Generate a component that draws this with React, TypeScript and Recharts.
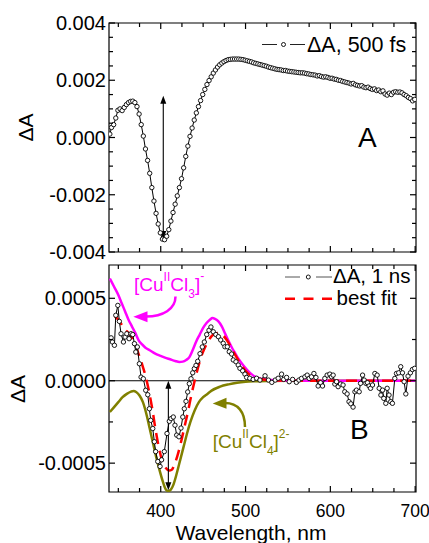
import React from "react"
import { LineChart, Line, XAxis, YAxis, ReferenceLine, ReferenceArea } from "recharts"

const FONT = "'Liberation Sans', Arial, Helvetica, sans-serif"

// ---- panel A: transient absorption at 500 fs ----
const wlA = [
  340, 342, 344.5, 347, 349.5, 352, 354.5, 357, 359.5, 362,
  364.5, 367, 369.5, 372, 374.5, 377, 379.5, 382, 384.5, 387,
  389.5, 392, 394.5, 397, 399.5, 402, 404.5, 407, 409.5, 412,
  414.5, 417, 419.5, 422, 424.5, 427, 429.5, 432, 434.5, 437,
  439.5, 442, 444.5, 447, 449.5, 452, 454.5, 457, 459.5, 462,
  464.5, 467, 469.5, 472, 474.5, 477, 479.5, 482, 484.5, 487,
  489.5, 492, 494.5, 497, 499.5, 502, 504.5, 507, 509.5, 512,
  514.5, 517, 519.5, 522, 524.5, 527, 529.5, 532, 534.5, 537,
  539.5, 542, 544.5, 547, 549.5, 552, 554.5, 557, 559.5, 562,
  564.5, 567, 569.5, 572, 574.5, 577, 579.5, 582, 584.5, 587,
  589.5, 592, 594.5, 597, 599.5, 602, 604.5, 607, 609.5, 612,
  614.5, 617, 619.5, 622, 624.5, 627, 629.5, 632, 634.5, 637,
  639.5, 642, 644.5, 647, 649.5, 652, 654.5, 657, 659.5, 662,
  664.5, 667, 669.5, 672, 674.5, 677, 679.5, 682, 684.5, 687,
  689.5, 692, 694.5, 697, 699.5,
]
const dA500fs = [
  0.00012, 0.00035, 0.00045, 0.00068, 0.00095, 0.001, 0.00094, 0.00105, 0.00115, 0.00122,
  0.00126, 0.00127, 0.00122, 0.00108, 0.00082, 0.00045, 0.00005, -0.0004, -0.0008, -0.00125,
  -0.00175, -0.00222, -0.00265, -0.00302, -0.00333, -0.00355, -0.00357, -0.00345, -0.00322, -0.00292,
  -0.00262, -0.00233, -0.00204, -0.00175, -0.00144, -0.00106, -0.00066, -0.0003, 0.00004, 0.00033,
  0.00061, 0.00086, 0.00108, 0.00129, 0.0015, 0.00168, 0.00185, 0.00199, 0.00212, 0.00225,
  0.00236, 0.00246, 0.00254, 0.0026, 0.00265, 0.00269, 0.00272, 0.00273, 0.00274, 0.00274,
  0.00274, 0.00274, 0.00273, 0.00272, 0.0027, 0.00268, 0.00266, 0.00264, 0.00261, 0.00259,
  0.00257, 0.00255, 0.00253, 0.00251, 0.00249, 0.00246, 0.00244, 0.00242, 0.0024, 0.00238,
  0.00237, 0.00236, 0.00234, 0.00234, 0.00232, 0.00231, 0.0023, 0.00229, 0.00228, 0.00227,
  0.00226, 0.00226, 0.00225, 0.00223, 0.00222, 0.0022, 0.00219, 0.00218, 0.00215, 0.00216,
  0.00213, 0.00211, 0.00212, 0.0021, 0.00207, 0.00207, 0.00204, 0.00203, 0.002, 0.00199,
  0.00196, 0.00194, 0.00192, 0.0019, 0.00187, 0.00189, 0.00184, 0.00182, 0.0018, 0.00181,
  0.00176, 0.00174, 0.00176, 0.00171, 0.00168, 0.0017, 0.00164, 0.00166, 0.0016, 0.00163,
  0.00152, 0.00148, 0.00155, 0.0015, 0.00158, 0.0016, 0.00158, 0.00159, 0.00156, 0.0015,
  0.00146, 0.0014, 0.00136, 0.00128, 0.00133,
]

// ---- panel B: 1 ns spectrum and fit components ----
const wl1ns = [
  341.5, 343, 345.4, 347, 349.4, 351.2, 353.2, 356, 358, 360, 362.7, 365,
  367, 369, 370.6, 372.4, 374.8, 376.8, 379.5, 382.3, 384.7, 386.6, 388.2, 390.6,
  392.5, 394, 396.5, 399.2, 401, 404.2, 407.4, 410.1, 412.1, 414.8, 416.8, 418.8,
  421.5, 423.9, 426, 427.8, 429.8, 431.8, 433.7, 435.7, 437.7, 439.6, 441.6, 443.6,
  446.3, 449, 451.4, 454.2, 456.9, 459.2, 462, 465, 468, 470.7, 473.7, 475.7,
  478.5, 480.8, 483.6, 485.5, 488.7, 491.4, 493.4, 496.6, 499.3, 501.3, 505, 509,
  513, 517, 523, 527, 531, 535, 538.5, 542.5, 545, 548.4, 551.5, 555.5,
  560, 563, 566, 570, 572.7, 575, 577.8, 580.6, 583, 585.6, 588.5, 590.8,
  593.5, 596.2, 599.4, 601.4, 603.3, 605.3, 607.3, 609.2, 612, 615, 617, 619.8,
  622, 624.2, 626.8, 629, 630.8, 634, 635.6, 638, 639.9, 641.9, 643.8, 645.7,
  647.4, 649.7, 652.5, 655.2, 657.6, 659.6, 661.6, 663, 665.4, 667, 669.2, 671.2,
  673.2, 676, 678, 680.6, 683, 685, 687, 689, 691.6, 694.4, 696.8, 699.4,
]
const dA1ns = [
  0.00026, 0.000235, 0.000215, 0.000397, 0.000457, 0.00036, 0.000285, 0.000235, 0.000265, 0.000285, 0.000255, 0.000285,
  0.00028, 0.000225, 0.000174, 0.000205, 0.000103, 0.000022, 0.000012, -0.000058, -0.000085, -0.00017, -0.00024, -0.00029,
  -0.00037, -0.00043, -0.00049, -0.00052, -0.00048, -0.00043, -0.00032, -0.000246, -0.00023, -0.00022, -0.00027, -0.00033,
  -0.00034, -0.000287, -0.00022, -0.00017, -0.000125, -0.000068, -0.000018, 0.000012, 0.000048, 0.000073, 0.000093, 0.000118,
  0.000164, 0.000205, 0.000235, 0.00028, 0.000306, 0.000326, 0.000297, 0.00028, 0.000267, 0.000247, 0.000227, 0.000206,
  0.000206, 0.000176, 0.000162, 0.000126, 0.000115, 0.000095, 0.000075, 0.00006, 0.00004, 0.00002, 0.000015, 0.000008,
  0.000015, 0.000004, 0.00003, 0.000004, -0.00001, 0.000004, 0.000015, 0.00004, 0.000008, 0.00002, -0.000006, 0.000008,
  -0.00001, 0.000004, 0.000014, 0.000024, 0.000034, 0.000014, 0.000024, 0.000044, 0.00002, -0.000032, -0.000012, -0.000032,
  0.000014, 0.000034, 0.00004, 0.000024, 0.000034, -0.00002, -0.000006, -0.000036, -0.00002, -0.000026, -0.000067, -0.00008,
  -0.000127, -0.00014, -0.00016, -0.000067, -0.000057, -0.000067, -0.000016, 0.000034, 0.000004, -0.000016, -0.000012, -0.000032,
  -0.000046, -0.000026, 0.000044, 0.000034, -0.000046, -0.000087, -0.000057, -0.000107, -0.000137, -0.000046, -0.000087, -0.000127,
  -0.000137, 0.000014, 0.000044, 0.000048, 0.000085, 0.000048, -0.000006, -0.00008, 0.000028, 0.000048, 0.000068, 0.000075,
]

// [CuIICl3]- component
const wlCl3 = [
  340, 345, 350, 354, 358, 362, 366, 370, 374, 378, 382, 387, 393, 399, 405,
  411, 417, 422, 426, 430, 434, 438, 442, 446, 450, 454, 458, 461, 464, 468,
  472, 476, 480, 484, 488, 492, 497, 502, 507, 513, 520, 530, 545, 600, 700,
]
const cl3 = [
  0.00062, 0.00057, 0.00052, 0.00047, 0.00042, 0.00037, 0.00033, 0.00029, 0.000245, 0.00022, 0.0002, 0.000185, 0.000166, 0.000152, 0.00014,
  0.00013, 0.00012, 0.000114, 0.000116, 0.000126, 0.000145, 0.00019, 0.00024, 0.00028, 0.00032, 0.00035, 0.00037, 0.00038, 0.000375, 0.00036,
  0.00033, 0.000285, 0.00024, 0.0002, 0.000165, 0.00013, 0.000095, 0.000065, 0.00004, 0.00002, 0.00001, 0.000004, 0.000001, 0, 0,
]

// best fit
const wlFit = [
  346, 350, 354, 358, 362, 366, 370, 374, 378, 382, 386, 390, 394, 398, 402, 406,
  410, 413, 416, 420, 424, 428, 432, 436, 440, 444, 448, 452, 456, 460, 464, 468,
  472, 476, 480, 484, 488, 492, 496, 500, 505, 510, 517, 525, 540, 600, 700,
]
const fit = [
  0.00039, 0.00037, 0.00034, 0.00031, 0.00029, 0.00026, 0.00022, 0.00016, 0.0001, 0.00003, -0.00006, -0.00017, -0.0003, -0.00041, -0.00049, -0.00053,
  -0.000545, -0.00054, -0.00051, -0.00045, -0.00037, -0.00028, -0.00019, -0.00009, 0, 0.00008, 0.00015, 0.0002, 0.00024, 0.00027, 0.000285, 0.00029,
  0.00028, 0.00026, 0.00023, 0.00019, 0.000155, 0.00012, 0.00009, 0.00006, 0.000035, 0.00002, 0.00001, 0.000004, 0.000001, 0, 0,
]

// [CuIICl4]2- component
const wlCl4 = [
  340, 345, 350, 355, 360, 365, 368, 371, 375, 379, 383, 387, 391, 395, 399, 403, 406, 409, 412,
  415, 419, 423, 427, 431, 435, 440, 445, 450, 455, 460, 470, 480, 490, 500, 510, 525, 550, 700,
]
const cl4 = [
  -0.00019, -0.00016, -0.00013, -0.0001, -0.00008, -0.000066, -0.000062, -0.000068, -0.00009, -0.00013, -0.0002, -0.00029, -0.00038, -0.00047, -0.00055, -0.00062, -0.00066, -0.00067, -0.00066,
  -0.00063, -0.00056, -0.00048, -0.0004, -0.00032, -0.00025, -0.00018, -0.00013, -0.0001, -0.00008, -0.00006, -0.000036, -0.000022, -0.000012, -0.000006, -0.000003, -0.000001, 0, 0,
]

// axes
const xDomain = [339, 701]
const xTicks = [350, 375, 400, 425, 450, 475, 500, 525, 550, 575, 600, 625, 650, 675, 700]
const xLabels = [400, 500, 600, 700]
const yDomainA = [-0.004, 0.004]
const yTicksA = [
  -0.004, -0.0035, -0.003, -0.0025, -0.002, -0.0015, -0.001, -0.0005, 0,
  0.0005, 0.001, 0.0015, 0.002, 0.0025, 0.003, 0.0035, 0.004,
]
const yLabelsA = [-0.004, -0.002, 0, 0.002, 0.004]
const yDomainB = [-0.000675, 0.000702]
const yTicksB = [-0.0005, -0.00025, 0, 0.00025, 0.0005]
const yLabelsB = [-0.0005, 0, 0.0005]

// double arrows marking the bleach depth
const arrowA = { wl: 403, top: 0.00146, bottom: -0.00355 }
const arrowB = { wl: 409, top: 0, bottom: -0.000665 }

const zip = (xs: number[], ys: number[]) => xs.map((x, i) => ({ wl: x, v: ys[i] }))

const W = 429
const H = 543
const PL = 109
const PR = 416
const A_TOP = 23
const A_BOT = 252
const B_TOP = 265
const B_BOT = 492

const fmt = (v: number, d: number) => (Math.abs(v) < 1e-12 ? (0).toFixed(d) : v.toFixed(d))

function xTick(top: number, bottom: number, labels: number[]) {
  return (p: any) => {
    const v = p.payload.value
    const len = v % 100 === 0 ? 6 : 4
    return (
      <g>
        <line x1={p.x} x2={p.x} y1={bottom} y2={bottom - len} stroke="#000" strokeWidth={1.2} />
        <line x1={p.x} x2={p.x} y1={top} y2={top + len} stroke="#000" strokeWidth={1.2} />
        {labels.includes(v) && (
          <text x={p.x} y={bottom + 25} textAnchor="middle" fontSize={17.5} fontFamily={FONT} fill="#000">
            {v}
          </text>
        )}
      </g>
    )
  }
}

function yTick(labels: number[], digits: number) {
  return (p: any) => {
    const v = p.payload.value
    const labelled = labels.some((l) => Math.abs(l - v) < 1e-9)
    const len = labelled ? 6 : 4
    return (
      <g>
        <line x1={PL} x2={PL + len} y1={p.y} y2={p.y} stroke="#000" strokeWidth={1.2} />
        <line x1={PR} x2={PR - len} y1={p.y} y2={p.y} stroke="#000" strokeWidth={1.2} />
        {labelled && (
          <text x={PL - 3} y={p.y + 7} textAnchor="end" fontSize={20} fontFamily={FONT} fill="#000">
            {fmt(v, digits)}
          </text>
        )}
      </g>
    )
  }
}

function DoubleArrow(p: any) {
  const x = p.x1
  const top = Math.min(p.y1, p.y2)
  const bot = Math.max(p.y1, p.y2)
  const hl = 8
  const hw = 3
  return (
    <g>
      <line x1={x} x2={x} y1={top + hl - 1} y2={bot - hl + 1} stroke="#000" strokeWidth={1.1} />
      <polygon points={`${x},${top} ${x - hw},${top + hl} ${x + hw},${top + hl}`} fill="#000" />
      <polygon points={`${x},${bot} ${x - hw},${bot - hl} ${x + hw},${bot - hl}`} fill="#000" />
    </g>
  )
}

const openDot = { r: 2.2, stroke: "#000", strokeWidth: 0.9, fill: "#fff" }

function PanelA() {
  return (
    <LineChart width={W} height={H} margin={{ top: A_TOP, right: W - PR, bottom: H - A_BOT - 30, left: PL - 60 }}>
      <XAxis
        dataKey="wl"
        type="number"
        domain={xDomain}
        allowDataOverflow
        ticks={xTicks}
        interval={0}
        axisLine={false}
        tickLine={false}
        tick={xTick(A_TOP, A_BOT, [])}
      />
      <YAxis
        type="number"
        domain={yDomainA}
        allowDataOverflow
        ticks={yTicksA}
        interval={0}
        width={60}
        axisLine={false}
        tickLine={false}
        tick={yTick(yLabelsA, 3)}
      />
      <ReferenceArea x1={xDomain[0]} x2={xDomain[1]} y1={yDomainA[0]} y2={yDomainA[1]} fill="none" stroke="#000" strokeWidth={1.2} />
      <Line
        data={zip(wlA, dA500fs)}
        dataKey="v"
        type="linear"
        stroke="#000"
        strokeWidth={1}
        dot={openDot}
        isAnimationActive={false}
      />
      <ReferenceLine
        segment={[
          { x: arrowA.wl, y: arrowA.top },
          { x: arrowA.wl, y: arrowA.bottom },
        ]}
        shape={DoubleArrow}
      />
    </LineChart>
  )
}

function PanelB() {
  return (
    <LineChart width={W} height={H} margin={{ top: B_TOP, right: W - PR, bottom: H - B_BOT - 30, left: PL - 60 }}>
      <XAxis
        dataKey="wl"
        type="number"
        domain={xDomain}
        allowDataOverflow
        ticks={xTicks}
        interval={0}
        axisLine={false}
        tickLine={false}
        tick={xTick(B_TOP, B_BOT, xLabels)}
      />
      <YAxis
        type="number"
        domain={yDomainB}
        allowDataOverflow
        ticks={yTicksB}
        interval={0}
        width={60}
        axisLine={false}
        tickLine={false}
        tick={yTick(yLabelsB, 4)}
      />
      <ReferenceArea x1={xDomain[0]} x2={xDomain[1]} y1={yDomainB[0]} y2={yDomainB[1]} fill="none" stroke="#000" strokeWidth={1.2} />
      <ReferenceLine y={0} stroke="#000" strokeWidth={1.2} />
      <Line data={zip(wlCl4, cl4)} dataKey="v" type="monotone" stroke="#808000" strokeWidth={2.5} dot={false} isAnimationActive={false} />
      <Line data={zip(wlCl3, cl3)} dataKey="v" type="monotone" stroke="#ff00ff" strokeWidth={2.5} dot={false} isAnimationActive={false} />
      <Line
        data={zip(wlFit, fit)}
        dataKey="v"
        type="monotone"
        stroke="#ff0000"
        strokeWidth={2.5}
        strokeDasharray="11 7"
        dot={false}
        isAnimationActive={false}
      />
      <Line data={zip(wl1ns, dA1ns)} dataKey="v" type="linear" stroke="#000" strokeWidth={1} dot={openDot} isAnimationActive={false} />
      <ReferenceLine
        segment={[
          { x: arrowB.wl, y: arrowB.top },
          { x: arrowB.wl, y: arrowB.bottom },
        ]}
        shape={DoubleArrow}
      />
    </LineChart>
  )
}

function Annotations() {
  const t = { fontFamily: FONT }
  return (
    <svg width={W} height={H} style={{ position: "absolute", left: 0, top: 0, pointerEvents: "none" }}>
      {/* axis titles */}
      <text transform="translate(33,127.5) rotate(-90)" textAnchor="middle" fontSize={21} {...t}>ΔA</text>
      <text transform="translate(25,389) rotate(-90)" textAnchor="middle" fontSize={21} {...t}>ΔA</text>
      <text x={251} y={540} textAnchor="middle" fontSize={21} {...t}>Wavelength, nm</text>

      {/* panel letters */}
      <text x={358} y={147} fontSize={28} {...t}>A</text>
      <text x={350} y={438.5} fontSize={28} {...t}>B</text>

      {/* legend A */}
      <line x1={262} x2={277} y1={44.5} y2={44.5} stroke="#222" strokeWidth={1} />
      <line x1={290} x2={305} y1={44.5} y2={44.5} stroke="#222" strokeWidth={1} />
      <circle cx={283.5} cy={44.5} r={2} fill="#fff" stroke="#000" strokeWidth={0.9} />
      <text x={307} y={52} fontSize={21.5} {...t}>ΔA, 500 fs</text>

      {/* legend B */}
      <line x1={285} x2={300} y1={277} y2={277} stroke="#555" strokeWidth={1} />
      <line x1={316} x2={332} y1={277} y2={277} stroke="#555" strokeWidth={1} />
      <circle cx={308.3} cy={277} r={2} fill="#fff" stroke="#000" strokeWidth={0.9} />
      <text x={333} y={282.5} fontSize={20.5} {...t}>ΔA, 1 ns</text>
      <line x1={285} x2={332} y1={298.7} y2={298.7} stroke="#ff0000" strokeWidth={2.5} strokeDasharray="10 8.5" />
      <text x={336.5} y={305.3} fontSize={20.5} {...t}>best fit</text>

      {/* [CuIICl3]- label and arrow */}
      <text x={134} y={291} fontSize={19} fill="#ff00ff" {...t}>
        [Cu
        <tspan dy={-10} fontSize={12}>II</tspan>
        <tspan dy={10}>Cl</tspan>
        <tspan dy={7} fontSize={12}>3</tspan>
        <tspan dy={-7}>]</tspan>
        <tspan dy={-11} fontSize={12}>-</tspan>
      </text>
      <path d="M175.5,296.5 C175.5,309 163,316.5 146,316.5" fill="none" stroke="#ff00ff" strokeWidth={2.5} />
      <polygon points="133.3,316.7 147.5,311.2 147.5,322.2" fill="#ff00ff" />

      {/* [CuIICl4]2- label and arrow */}
      <text x={212.7} y={448.3} fontSize={19} fill="#808000" {...t}>
        [Cu
        <tspan dy={-10} fontSize={12}>II</tspan>
        <tspan dy={10}>Cl</tspan>
        <tspan dy={7} fontSize={12}>4</tspan>
        <tspan dy={-7}>]</tspan>
        <tspan dy={-10} fontSize={12}>2-</tspan>
      </text>
      <path d="M245,427 C245,412 238,403 225,403" fill="none" stroke="#808000" strokeWidth={2.5} />
      <polygon points="212.7,403.5 226.5,397.8 226.5,408.8" fill="#808000" />
    </svg>
  )
}

export default function App() {
  return (
    <div style={{ position: "absolute", left: 0, top: 0, width: W, height: H, background: "#fff", fontFamily: FONT }}>
      <div style={{ position: "absolute", left: 0, top: 0 }}>
        <PanelA />
      </div>
      <div style={{ position: "absolute", left: 0, top: 0 }}>
        <PanelB />
      </div>
      <Annotations />
    </div>
  )
}
